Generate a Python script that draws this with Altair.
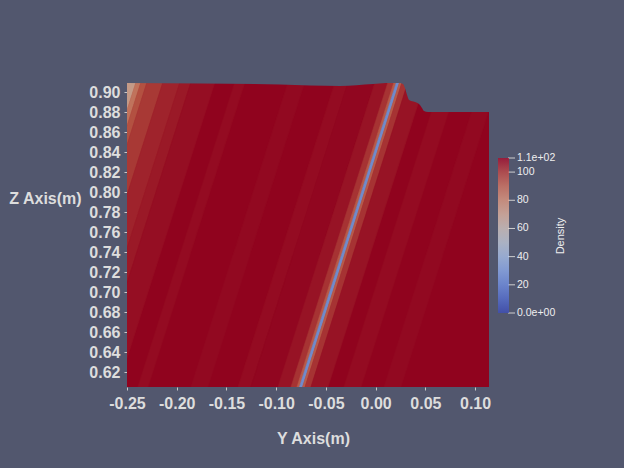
import altair as alt
import pandas as pd
import jinja2

# ---------------- data ----------------
y_ticks = [-0.25, -0.20, -0.15, -0.10, -0.05, 0.00, 0.05, 0.10]
z_ticks = [0.62, 0.64, 0.66, 0.68, 0.70, 0.72, 0.74, 0.76, 0.78, 0.80,
           0.82, 0.84, 0.86, 0.88, 0.90]

# field extent (Y, Z) and background density
field_y = [-0.25, 0.114]
field_z = [0.605, 0.909]
base_density = 110

# slanted density bands: Y edges at reference height z_ref, density inside
z_ref = 0.822
lean = 0.32          # dY/dZ of the stripes
band_start = [-0.3400, -0.2691, -0.2641, -0.2580, -0.2420, -0.2249, -0.2138,
              -0.1696, -0.1163, -0.0690, -0.0559, -0.0288, -0.0157, -0.0097,
              -0.0072, -0.0041, -0.0016, 0.0044, 0.0376, 0.0778]
band_end = [-0.2691, -0.2641, -0.2580, -0.2420, -0.2249, -0.2138, -0.1897,
            -0.1595, -0.0992, -0.0559, -0.0288, -0.0157, -0.0097, -0.0072,
            -0.0041, -0.0016, 0.0044, 0.0215, 0.0547, 0.0949]
band_density = [70, 85, 95, 100, 104, 106, 108,
                108.5, 109, 108.5, 109.5, 107, 101, 92,
                27, 92, 101, 107, 108.5, 109]

# upper outline of the domain (Y, Z)
outline_y = [-0.26, -0.1766, -0.0962, -0.0358, -0.0026, 0.0215, 0.0275,
             0.0295, 0.0316, 0.0336, 0.0396, 0.0446, 0.0466, 0.0486, 0.0527,
             0.12]
outline_z = [0.909, 0.9085, 0.9075, 0.906, 0.908, 0.9095, 0.908,
             0.904, 0.897, 0.892, 0.890, 0.887, 0.884, 0.881, 0.880,
             0.880]

# colour bar
density_domain = [0, 110]
legend_values = [0, 20, 40, 60, 80, 100, 110]
legend_labels = ["0.0e+00", "20", "40", "60", "80", "100", "1.1e+02"]
legend_title = "Density"

cool_warm = ["#3b4cc0", "#6282ea", "#8db0fe", "#b8d0f9", "#dddddd",
             "#f5c4ad", "#f49a7b", "#de604d", "#b40426"]

# ---------------- styling ----------------
BG = "#52576e"
TXT = "#dddddd"
FONT = "Liberation Sans"
LIGHT = 0.8   # surface shading of the rendered field


def lit_color(v):
    n = len(cool_warm) - 1
    t = (v - density_domain[0]) / (density_domain[1] - density_domain[0]) * n
    i = min(max(int(t), 0), n - 1)
    f = t - i
    a, b = cool_warm[i], cool_warm[i + 1]
    out = []
    for k in (1, 3, 5):
        ca, cb = int(a[k:k + 2], 16), int(b[k:k + 2], 16)
        out.append(round((ca + (cb - ca) * f) * LIGHT))
    return "#%02x%02x%02x" % tuple(out)


z_lo, z_hi = 0.60, 0.915
rows = []
for i, (s, e, v) in enumerate(zip(band_start, band_end, band_density)):
    for z in (z_lo, z_hi):
        off = lean * (z - z_ref)
        rows.append({"band": i, "z": z, "a": s + off, "b": e + off,
                     "c": lit_color(v)})
band_df = pd.DataFrame(rows)

base_df = pd.DataFrame({"y0": [field_y[0]], "y1": [field_y[1]],
                        "z0": [field_z[0]], "z1": [field_z[1]],
                        "c": [lit_color(base_density)]})
mask_df = pd.DataFrame({"y": outline_y, "z": outline_z,
                        "top": [0.95] * len(outline_y)})
cbar_df = pd.DataFrame({"v": legend_values, "lab": legend_labels})

xscale = alt.Scale(domain=field_y, nice=False, zero=False)
yscale = alt.Scale(domain=field_z, nice=False, zero=False)

xaxis = alt.Axis(values=y_ticks, format=".2f",
                 labelExpr="replace(datum.label, '\u2212', '-')",
                 title="Y Axis(m)", titleX=186, titleY=51,
                 titleAlign="center", titleBaseline="middle",
                 labelPadding=5, labelOverlap=False, labelFlush=False)
yaxis = alt.Axis(values=z_ticks, format=".2f",
                 title="Z Axis(m)", titleAngle=0, titleX=-82, titleY=115,
                 titleAlign="center", titleBaseline="middle",
                 labelPadding=4, labelOverlap=False, labelFlush=False)

base = alt.Chart(base_df).mark_rect().encode(
    x=alt.X("y0:Q", scale=xscale, axis=xaxis),
    x2="y1:Q",
    y=alt.Y("z0:Q", scale=yscale, axis=yaxis),
    y2="z1:Q",
    fill=alt.Fill("c:N", scale=None),
)

bands = alt.Chart(band_df).mark_area(orient="horizontal", clip=True,
                                      strokeWidth=0.6).encode(
    y=alt.Y("z:Q", scale=yscale, axis=yaxis),
    x=alt.X("a:Q", scale=xscale, axis=xaxis),
    x2="b:Q",
    detail="band:N",
    fill=alt.Fill("c:N", scale=None),
    stroke=alt.Stroke("c:N", scale=None),
)

mask = alt.Chart(mask_df).mark_area(clip=True, color=BG,
                                    interpolate="monotone").encode(
    x=alt.X("y:Q", scale=xscale, axis=xaxis),
    y=alt.Y("z:Q", scale=yscale, axis=yaxis),
    y2="top:Q",
)

field = alt.layer(base, bands, mask)

# colour bar: gradient legend plus its own tick marks and labels
cbar_scale = alt.Scale(domain=density_domain, range=[230, 75], nice=False,
                       zero=False)

gradient = alt.Chart(pd.DataFrame({"d": density_domain})).mark_point(
    filled=True, size=0).encode(
    color=alt.Color(
        "d:Q",
        scale=alt.Scale(domain=density_domain, range=cool_warm,
                        interpolate="rgb"),
        legend=alt.Legend(
            orient="none", legendX=371, legendY=75, direction="vertical",
            gradientLength=155, gradientThickness=11, gradientStrokeWidth=0,
            values=density_domain, labelExpr="''", labelOpacity=0,
            title=None,
        ),
    )
)

cbar_ticks = alt.Chart(cbar_df).mark_rule(color="#cfcfcf",
                                          strokeWidth=1).encode(
    y=alt.Y("v:Q", scale=cbar_scale, axis=None),
    x=alt.value(381), x2=alt.value(388),
)

cbar_labels = alt.Chart(cbar_df).mark_text(
    font=FONT, fontSize=10.5, color="#eeeeee", align="left",
    baseline="middle").encode(
    y=alt.Y("v:Q", scale=cbar_scale, axis=None),
    x=alt.value(390),
    text="lab:N",
)

density_text = alt.Chart(pd.DataFrame({"t": [legend_title]})).mark_text(
    angle=270, font=FONT, fontSize=11, color="#eeeeee",
    align="center", baseline="middle").encode(
    text="t:N", x=alt.value(434), y=alt.value(153))

colorbar = alt.layer(gradient, cbar_ticks, cbar_labels, density_text)

chart = alt.layer(field, colorbar).resolve_scale(y="independent").properties(
    width=362, height=304, background=BG,
    padding={"left": 119, "top": 75, "right": 127, "bottom": 73},
    autosize=alt.AutoSizeParams(type="none"),
).configure_view(strokeWidth=0).configure_axis(
    grid=False, domain=False, tickColor="#c8c8c8", tickSize=3, tickWidth=1,
    labelFont=FONT, labelFontSize=16, labelFontWeight="bold",
    labelColor=TXT, titleFont=FONT, titleFontSize=16,
    titleFontWeight="bold", titleColor=TXT,
)

PAGE = jinja2.Template("""<!DOCTYPE html>
<html>
<head>
  <meta charset="utf-8">
  <style>
    body { background: """ + BG + """; }
    #{{ output_div }}.vega-embed { width: 100%; display: flex; }
  </style>
  <script type="text/javascript" src="{{ base_url }}/vega@{{ vega_version }}"></script>
  <script type="text/javascript" src="{{ base_url }}/vega-lite@{{ vegalite_version }}"></script>
  <script type="text/javascript" src="{{ base_url }}/vega-embed@{{ vegaembed_version }}"></script>
</head>
<body>
  <div id="{{ output_div }}"></div>
  <script>
    (function(vegaEmbed) {
      var spec = {{ spec }};
      var embedOpt = {{ embed_options }};
      vegaEmbed("#{{ output_div }}", spec, embedOpt);
    })(vegaEmbed);
  </script>
</body>
</html>
""")

chart.save("out.html", embed_options={"renderer": "svg", "actions": False},
           template=PAGE)
